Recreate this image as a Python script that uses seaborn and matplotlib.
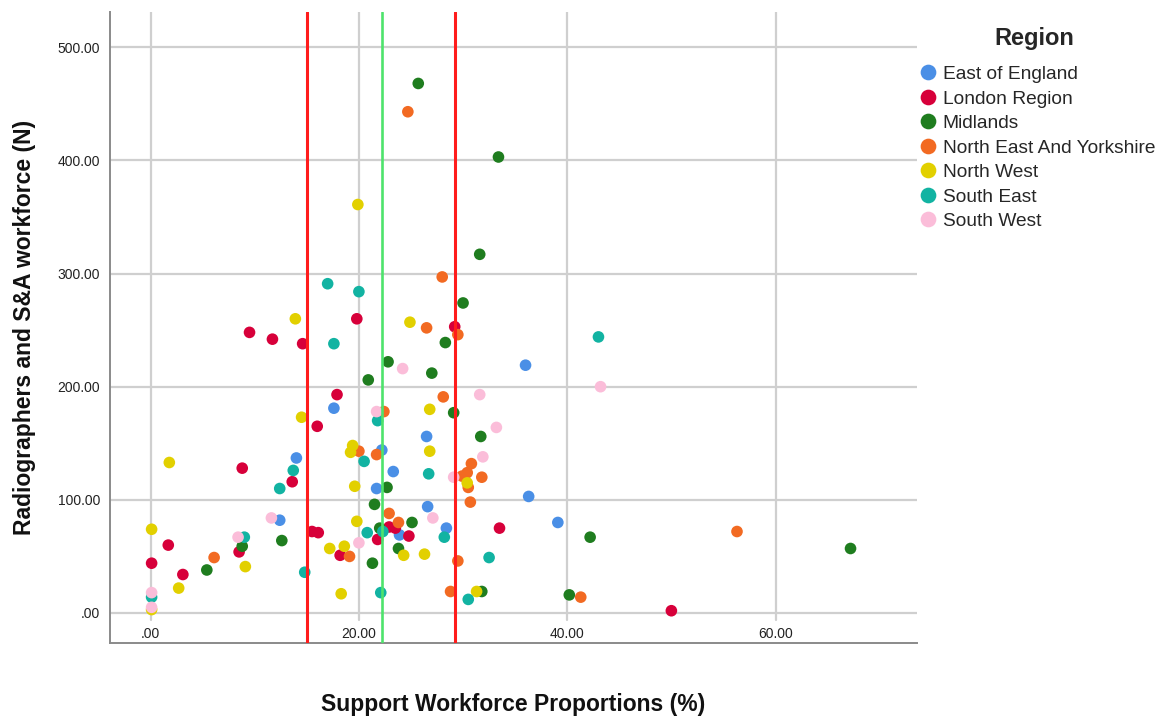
import numpy as np
import pandas as pd
import matplotlib
matplotlib.use("Agg")
import matplotlib.pyplot as plt
import seaborn as sns

# Support workforce proportion (%) and radiographer + S&A headcount per trust, by region
east_x = [17.6, 14.0, 12.4, 22.2, 23.3, 21.7, 26.5, 26.6, 28.4, 23.9, 36.0, 36.3, 39.1]
east_y = [181, 137, 82, 144, 125, 110, 156, 94, 75, 69, 219, 103, 80]

london_x = [9.5, 11.7, 14.6, 8.8, 13.6, 0.1, 1.7, 3.1, 8.5, 19.8, 17.9, 16.0, 15.5, 16.1,
            18.2, 21.8, 22.9, 23.5, 24.8, 29.2, 33.5, 50.0]
london_y = [248, 242, 238, 128, 116, 44, 60, 34, 54, 260, 193, 165, 72, 71,
            51, 65, 76, 75, 68, 253, 75, 2]

midlands_x = [25.7, 33.4, 31.6, 30.0, 28.3, 22.8, 27.0, 20.9, 29.1, 31.7, 22.7, 21.5,
              25.1, 23.8, 21.3, 12.6, 22.0, 5.4, 8.8, 31.8, 40.2, 42.2, 67.2]
midlands_y = [468, 403, 317, 274, 239, 222, 212, 206, 177, 156, 111, 96,
              80, 57, 44, 64, 75, 38, 59, 19, 16, 67, 57]

ney_x = [24.7, 28.0, 26.5, 29.5, 28.1, 22.4, 20.0, 21.7, 30.8, 30.4, 29.9, 31.8,
         30.5, 30.7, 22.9, 23.8, 19.1, 29.5, 28.8, 41.3, 56.3, 6.1]
ney_y = [443, 297, 252, 246, 191, 178, 143, 140, 132, 124, 121, 120,
         111, 98, 88, 80, 50, 46, 19, 14, 72, 49]

nw_x = [19.9, 13.9, 14.5, 1.8, 0.1, 9.1, 2.7, 0.1, 24.9, 26.8, 26.8, 19.4, 19.2,
        19.6, 19.8, 17.2, 18.6, 18.3, 24.3, 26.3, 30.4, 31.3]
nw_y = [361, 260, 173, 133, 74, 41, 22, 3, 257, 180, 143, 148, 142,
        112, 81, 57, 59, 17, 51, 52, 115, 19]

se_x = [17.0, 20.0, 17.6, 43.0, 21.8, 20.5, 26.7, 13.7, 12.4, 14.8, 0.1, 9.0,
        20.8, 22.3, 28.2, 32.5, 30.5, 22.1]
se_y = [291, 284, 238, 244, 170, 134, 123, 126, 110, 36, 14, 67,
        71, 72, 67, 49, 12, 18]

sw_x = [43.2, 31.6, 33.2, 31.9, 29.1, 27.1, 24.2, 21.7, 20.0, 8.4, 11.6, 0.1, 0.1]
sw_y = [200, 193, 164, 138, 120, 84, 216, 178, 62, 67, 84, 18, 5]

regions = ["East of England", "London Region", "Midlands", "North East And Yorkshire",
           "North West", "South East", "South West"]
colors = ["#4a8fe6", "#d7003a", "#1f7d1f", "#f26a22", "#e2d000", "#12b3a2", "#fbbdd9"]

# reference lines: mean support proportion and mean +/- 1 SD
mean_line = 22.2
sd_lines = [15.0, 29.2]

x_ticks = [0, 20, 40, 60]
x_ticklabels = [".00", "20.00", "40.00", "60.00"]
y_ticks = [0, 100, 200, 300, 400, 500]
y_ticklabels = [".00", "100.00", "200.00", "300.00", "400.00", "500.00"]

xs = [east_x, london_x, midlands_x, ney_x, nw_x, se_x, sw_x]
ys = [east_y, london_y, midlands_y, ney_y, nw_y, se_y, sw_y]
df = pd.concat(
    [pd.DataFrame({"support": x, "workforce": y, "Region": r}) for r, x, y in zip(regions, xs, ys)],
    ignore_index=True,
)

sns.set_theme(style="white")
plt.rcParams["font.family"] = ["Liberation Sans", "DejaVu Sans"]

fig = plt.figure(figsize=(11.61, 7.16), dpi=100)
ax = fig.add_axes([0.0947, 0.102, 0.6953, 0.881])

# horizontal grid across the full width; vertical grid stops above the tick labels
ax.yaxis.grid(True, color="#cfcfcf", linewidth=1.6, zorder=0)
for xv in x_ticks:
    ax.axvline(xv, ymin=0.036, ymax=1, color="#cfcfcf", linewidth=1.6, zorder=0)
ax.set_axisbelow(True)

sns.scatterplot(data=df, x="support", y="workforce", hue="Region", hue_order=regions,
                palette=dict(zip(regions, colors)), s=70, linewidth=0, alpha=1.0,
                ax=ax, zorder=3, legend=True)

for v in sd_lines:
    ax.axvline(v, color="#ff1c1c", linewidth=2.2, zorder=4)
ax.axvline(mean_line, color="#4ee36c", linewidth=1.9, zorder=4)

ax.set_xlim(-3.9, 73.6)
ax.set_ylim(-26.5, 531)
ax.set_xticks(x_ticks)
ax.set_xticklabels(x_ticklabels)
ax.set_yticks(y_ticks)
ax.set_yticklabels(y_ticklabels)
ax.tick_params(axis="both", length=0, labelsize=10, colors="#222222")
ax.tick_params(axis="y", pad=7)
ax.tick_params(axis="x", pad=-11.5)

for side in ["top", "right"]:
    ax.spines[side].set_visible(False)
for side in ["left", "bottom"]:
    ax.spines[side].set_color("#8a8a8a")
    ax.spines[side].set_linewidth(1.4)

ax.set_xlabel("Support Workforce Proportions (%)", fontsize=16.5, fontweight="bold",
              color="#111111")
ax.set_ylabel("Radiographers and S&A workforce (N)", fontsize=16.5, fontweight="bold",
              color="#111111")
ax.xaxis.set_label_coords(0.5, -0.079)
ax.yaxis.set_label_coords(-0.092, 0.5)

handles, labels = ax.get_legend_handles_labels()
ax.legend_.remove()
leg = fig.legend(handles, labels, title="Region", loc="upper left",
                 bbox_to_anchor=(0.7795, 0.9736), frameon=False, fontsize=13.8,
                 title_fontproperties={"weight": "bold", "size": 17},
                 handletextpad=0.0, handlelength=1.56, labelspacing=0.37,
                 markerscale=1.35, borderaxespad=0)
# center the title over the entries and leave a wider gap beneath it
leg._legend_box.align = "center"
leg._legend_box.sep = 11.6

fig.savefig("out.png", dpi=100, facecolor="white")
